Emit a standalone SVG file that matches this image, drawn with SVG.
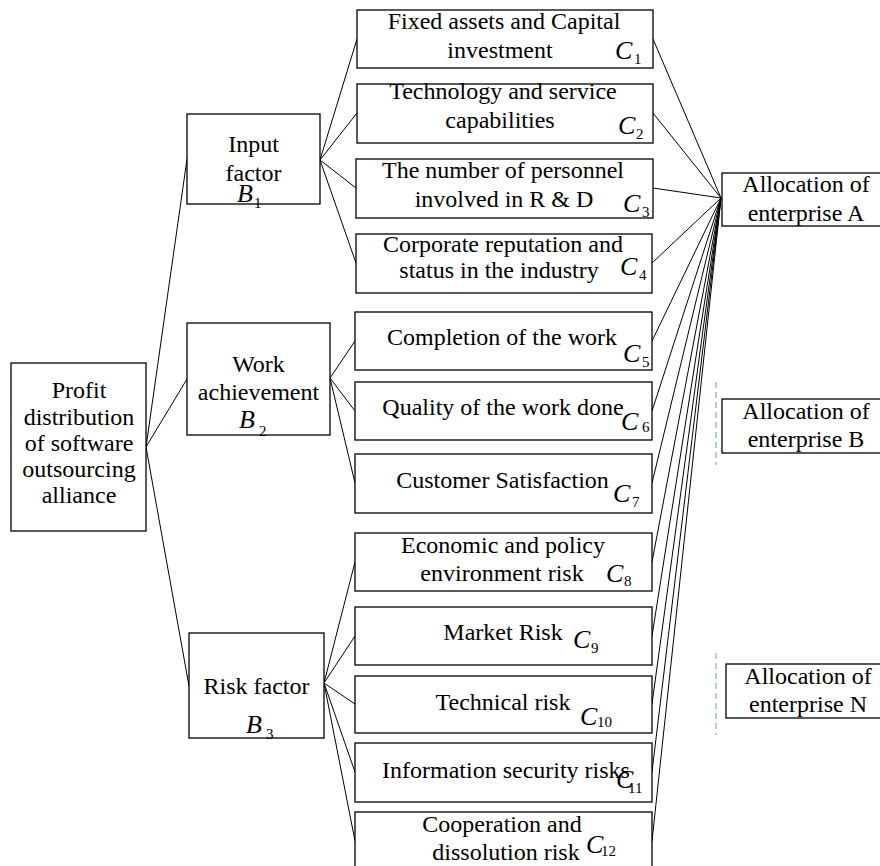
<svg xmlns="http://www.w3.org/2000/svg" width="880" height="866" viewBox="0 0 880 866">
<style>
.box{fill:#fff;stroke:#000;stroke-width:1.3}
.t{font-family:"Liberation Serif","Times New Roman",serif;font-size:24px;fill:#000;text-anchor:middle}
.v{font-family:"Liberation Serif","Times New Roman",serif;font-size:26px;font-style:italic;fill:#000}
.s{font-family:"Liberation Serif","Times New Roman",serif;font-size:15px;fill:#000}
.c{stroke:#000;stroke-width:1;fill:none}
.d{stroke:#5b9bd5;stroke-width:1;stroke-dasharray:6,4;fill:none}
</style>
<rect width="880" height="866" fill="#fff"/>
<g id="connectors">
<line class="c" x1="146" y1="447" x2="187" y2="159"/>
<line class="c" x1="146" y1="447" x2="187" y2="379"/>
<line class="c" x1="146" y1="447" x2="189" y2="686"/>
<line class="c" x1="320" y1="160" x2="357" y2="39"/>
<line class="c" x1="320" y1="160" x2="357" y2="113"/>
<line class="c" x1="320" y1="160" x2="356" y2="188"/>
<line class="c" x1="320" y1="160" x2="356" y2="263"/>
<line class="c" x1="330" y1="378" x2="355" y2="341"/>
<line class="c" x1="330" y1="378" x2="355" y2="411"/>
<line class="c" x1="330" y1="378" x2="355" y2="483"/>
<line class="c" x1="324" y1="683" x2="355" y2="562"/>
<line class="c" x1="324" y1="683" x2="355" y2="636"/>
<line class="c" x1="324" y1="683" x2="355" y2="704"/>
<line class="c" x1="324" y1="683" x2="355" y2="772"/>
<line class="c" x1="324" y1="683" x2="355" y2="841"/>
<line class="c" x1="653" y1="39" x2="721" y2="198"/>
<line class="c" x1="653" y1="113" x2="721" y2="198"/>
<line class="c" x1="653" y1="188" x2="721" y2="198"/>
<line class="c" x1="652" y1="263" x2="721" y2="198"/>
<line class="c" x1="652" y1="341" x2="721" y2="198"/>
<line class="c" x1="652" y1="411" x2="721" y2="198"/>
<line class="c" x1="652" y1="483" x2="721" y2="198"/>
<line class="c" x1="652" y1="562" x2="721" y2="198"/>
<line class="c" x1="652" y1="636" x2="721" y2="198"/>
<line class="c" x1="652" y1="704" x2="721" y2="198"/>
<line class="c" x1="652" y1="772" x2="721" y2="198"/>
<line class="c" x1="652" y1="841" x2="721" y2="198"/>
<line class="d" x1="716" y1="382" x2="716" y2="465"/>
<line class="d" x1="716" y1="653" x2="716" y2="735"/>
</g>
<g id="root">
<rect class="box" x="11" y="363" width="135" height="168"/>
<text class="t" x="79" y="398">Profit</text>
<text class="t" x="79" y="425">distribution</text>
<text class="t" x="79" y="451">of software</text>
<text class="t" x="79" y="477">outsourcing</text>
<text class="t" x="79" y="503">alliance</text>
</g>
<g id="B1">
<rect class="box" x="187" y="114" width="133" height="90"/>
<text class="t" x="253.5" y="152">Input</text>
<text class="t" x="253.5" y="181">factor</text>
<text class="v" x="237" y="202">B</text><text class="s" x="254" y="208">1</text>
</g>
<g id="B2">
<rect class="box" x="187" y="323" width="143" height="112"/>
<text class="t" x="258.5" y="372">Work</text>
<text class="t" x="258.5" y="400">achievement</text>
<text class="v" x="239" y="428">B</text><text class="s" x="259" y="436">2</text>
</g>
<g id="B3">
<rect class="box" x="189" y="633" width="135" height="105"/>
<text class="t" x="256.5" y="694">Risk factor</text>
<text class="v" x="246" y="733">B</text><text class="s" x="266" y="739">3</text>
</g>
<g id="C1">
<rect class="box" x="357" y="10" width="296" height="58"/>
<text class="t" x="504" y="29">Fixed assets and Capital</text>
<text class="t" x="500" y="58">investment</text>
<text class="v" x="615" y="59">C</text><text class="s" x="634" y="64">1</text>
</g>
<g id="C2">
<rect class="box" x="357" y="84" width="296" height="59"/>
<text class="t" x="503" y="99">Technology and service</text>
<text class="t" x="500" y="128">capabilities</text>
<text class="v" x="618" y="134">C</text><text class="s" x="636" y="139">2</text>
</g>
<g id="C3">
<rect class="box" x="356" y="159" width="297" height="59"/>
<text class="t" x="503" y="178">The number of personnel</text>
<text class="t" x="504" y="207">involved in R &amp; D</text>
<text class="v" x="623" y="212">C</text><text class="s" x="642" y="217">3</text>
</g>
<g id="C4">
<rect class="box" x="356" y="234" width="296" height="59"/>
<text class="t" x="503" y="252">Corporate reputation and</text>
<text class="t" x="499" y="278">status in the industry</text>
<text class="v" x="620" y="275">C</text><text class="s" x="639" y="280">4</text>
</g>
<g id="C5">
<rect class="box" x="355" y="312" width="297" height="58"/>
<text class="t" x="502" y="345">Completion of the work</text>
<text class="v" x="623" y="362">C</text><text class="s" x="642" y="367">5</text>
</g>
<g id="C6">
<rect class="box" x="355" y="382" width="297" height="58"/>
<text class="t" x="503" y="415">Quality of the work done</text>
<text class="v" x="621" y="430">C</text><text class="s" x="642" y="432">6</text>
</g>
<g id="C7">
<rect class="box" x="355" y="454" width="297" height="59"/>
<text class="t" x="502.5" y="488">Customer Satisfaction</text>
<text class="v" x="613" y="502">C</text><text class="s" x="632" y="507">7</text>
</g>
<g id="C8">
<rect class="box" x="355" y="533" width="297" height="58"/>
<text class="t" x="503" y="553">Economic and policy</text>
<text class="t" x="502" y="581">environment risk</text>
<text class="v" x="606" y="582">C</text><text class="s" x="624" y="586">8</text>
</g>
<g id="C9">
<rect class="box" x="355" y="607" width="297" height="58"/>
<text class="t" x="503" y="640">Market Risk</text>
<text class="v" x="573" y="648">C</text><text class="s" x="591" y="653">9</text>
</g>
<g id="C10">
<rect class="box" x="355" y="676" width="297" height="57"/>
<text class="t" x="503" y="710">Technical risk</text>
<text class="v" x="580" y="725">C</text><text class="s" x="597" y="727">10</text>
</g>
<g id="C11">
<rect class="box" x="355" y="743" width="297" height="59"/>
<text class="t" x="506" y="778">Information security risks</text>
<text class="v" x="616" y="788">C</text><text class="s" x="628" y="793">11</text>
</g>
<g id="C12">
<rect class="box" x="355" y="812" width="297" height="60"/>
<text class="t" x="502" y="832">Cooperation and</text>
<text class="t" x="506" y="860">dissolution risk</text>
<text class="v" x="586" y="853">C</text><text class="s" x="601" y="856">12</text>
</g>
<g id="A">
<rect class="box" x="722" y="173" width="170" height="53"/>
<text class="t" x="806" y="192">Allocation of</text>
<text class="t" x="806" y="221">enterprise A</text>
</g>
<g id="B">
<rect class="box" x="722" y="399" width="170" height="54"/>
<text class="t" x="806" y="419">Allocation of</text>
<text class="t" x="806" y="447">enterprise B</text>
</g>
<g id="N">
<rect class="box" x="726" y="664" width="170" height="54"/>
<text class="t" x="808" y="684">Allocation of</text>
<text class="t" x="808" y="712">enterprise N</text>
</g>
</svg>
